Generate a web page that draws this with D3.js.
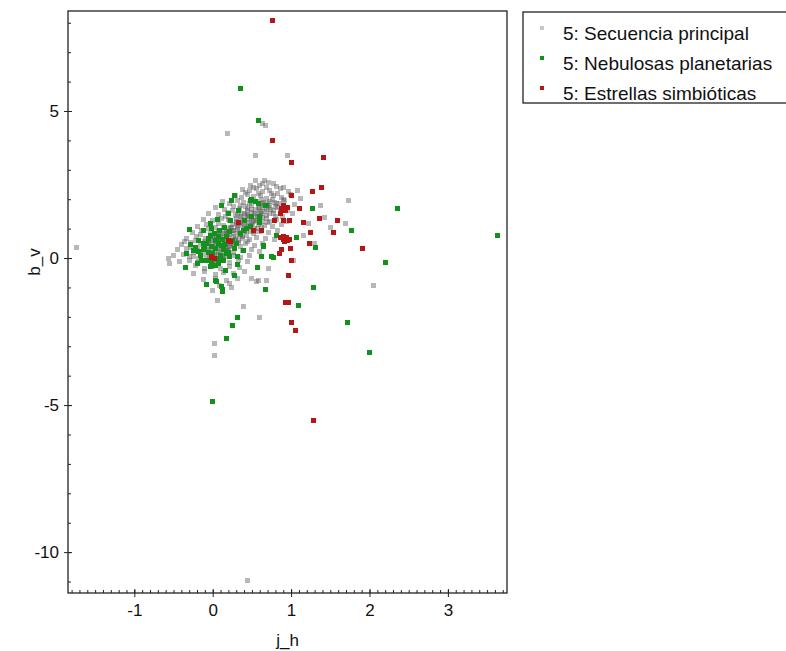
<!DOCTYPE html>
<html>
<head>
<meta charset="utf-8">
<script src="https://cdn.jsdelivr.net/npm/d3@7"></script>
<style>
  body { margin: 0; background: #fff; }
  text { font-family: "Liberation Sans", Arial, sans-serif; fill: #111; }
</style>
</head>
<body>
<div id="chart"></div>
<script>
// datos (j_h, b_v)
var secuencia = [
  [-1.74,0.37],[0.44,-10.95],[0.19,4.22],[0.63,4.56],[0.55,3.47],[0.96,3.5],[0.67,4.52],
  [1.73,1.95],[1.70,1.16],[2.05,-0.95],[0.02,-2.9],[0.02,-3.33],[0.06,-1.46],[0.39,-1.66],
  [0.60,-2.03],[0.24,-1.0],[0.0,-1.11],[0.56,-0.8],[0.69,-0.78],[1.37,1.80],[1.43,1.38],
  [1.22,1.18],[1.16,0.78],[0.71,-0.35],[0.49,-0.69],[0.58,-0.75],[1.03,-0.07],[-0.57,0.0],
  [-0.55,-0.2],[1.3,0.5],[1.5,1.05],
  [0.55,2.62],[0.63,2.55],[0.71,2.58],[0.48,2.47],[0.82,2.44],
  [0.38,2.33],[0.47,2.28],[0.56,2.36],[0.64,2.27],[0.73,2.31],[0.86,2.35],[0.97,2.25],[1.08,2.3],
  [0.29,2.12],[0.37,2.05],[0.44,2.16],[0.52,2.09],[0.61,2.14],[0.69,2.03],[0.77,2.11],[0.88,2.07],[0.99,2.15],[1.12,2.02],
  [0.12,1.93],[0.22,1.86],[0.31,1.95],[0.39,1.88],[0.47,1.84],[0.56,1.91],[0.64,1.85],[0.72,1.93],[0.81,1.87],[0.92,1.96],[1.04,1.83],
  [0.04,1.72],[0.15,1.66],[0.26,1.74],[0.34,1.68],[0.42,1.75],[0.5,1.64],[0.58,1.71],[0.66,1.77],[0.74,1.65],[0.83,1.72],[0.95,1.62],
  [-0.06,1.52],[0.08,1.47],[0.19,1.55],[0.29,1.46],[0.37,1.53],[0.45,1.44],[0.53,1.51],[0.61,1.57],[0.69,1.45],[0.78,1.53],[0.89,1.42],[1.02,1.5],
  [-0.12,1.31],[0.0,1.26],[0.11,1.34],[0.21,1.27],[0.3,1.36],[0.39,1.24],[0.47,1.32],[0.55,1.28],[0.63,1.37],[0.72,1.23],[0.82,1.3],[0.94,1.25],
  [-0.2,1.08],[-0.08,1.14],[0.04,1.05],[0.14,1.12],[0.23,1.03],[0.32,1.1],[0.4,1.06],[0.49,1.15],[0.57,1.02],[0.66,1.11],[0.76,1.07],[0.88,1.13],
  [-0.26,0.88],[-0.14,0.93],[-0.03,0.85],[0.07,0.91],[0.16,0.84],[0.25,0.95],[0.34,0.87],[0.43,0.92],[0.52,0.83],[0.61,0.9],[0.71,0.86],[0.83,0.94],
  [-0.33,0.67],[-0.21,0.72],[-0.09,0.65],[0.01,0.73],[0.11,0.64],[0.2,0.7],[0.29,0.66],[0.38,0.74],[0.47,0.63],[0.56,0.71],[0.67,0.68],[0.79,0.62],
  [-0.4,0.47],[-0.28,0.52],[-0.16,0.45],[-0.05,0.54],[0.05,0.46],[0.15,0.51],[0.24,0.44],[0.33,0.53],[0.42,0.48],[0.53,0.43],[0.64,0.5],
  [-0.45,0.28],[-0.33,0.33],[-0.21,0.26],[-0.1,0.31],[0.0,0.24],[0.09,0.34],[0.19,0.27],[0.28,0.32],[0.38,0.25],[0.49,0.3],[0.6,0.22],
  [-0.5,0.08],[-0.37,0.12],[-0.25,0.05],[-0.14,0.11],[-0.04,0.03],[0.06,0.13],[0.16,0.06],[0.26,0.1],[0.36,0.02],[0.47,0.09],
  [-0.42,-0.12],[-0.3,-0.07],[-0.19,-0.14],[-0.08,-0.06],[0.02,-0.13],[0.12,-0.08],[0.22,-0.15],[0.33,-0.09],[0.45,-0.11],
  [-0.35,-0.32],[-0.22,-0.27],[-0.1,-0.34],[0.0,-0.28],[0.1,-0.35],[0.21,-0.29],[0.34,-0.33],
  [-0.24,-0.52],[-0.11,-0.47],[0.03,-0.55],[0.14,-0.49],[0.27,-0.54],[0.4,-0.46],
  [-0.12,-0.72],[0.04,-0.68],[0.17,-0.75],[0.31,-0.7],
  [0.09,-0.92],[0.22,-0.88],
  [0.02,0.28],[0.08,0.4],[0.13,0.55],[0.18,0.68],[0.22,0.8],[0.27,0.93],[0.31,1.05],[0.36,1.18],[0.41,1.3],[0.46,1.42],
  [0.5,1.55],[0.55,1.66],[0.6,1.78],[0.65,1.9],[0.1,0.22],[0.17,0.37],[0.23,0.5],[0.29,0.64],[0.35,0.77],[0.4,0.9],
  [0.45,1.03],[0.51,1.17],[0.56,1.3],[0.61,1.44],[0.66,1.58],[0.71,1.71],[-0.05,0.36],[0.0,0.5],[0.06,0.63],[0.12,0.77],
  [0.18,0.9],[0.24,1.04],[0.3,1.19],[0.37,1.33],[0.43,1.48],[-0.08,0.12],[-0.02,0.0],[0.05,-0.05],[0.15,0.15],[0.2,0.3],
  [-0.3,0.05],[-0.25,0.18],[-0.2,0.3],[-0.15,0.2],[-0.12,0.42],[-0.07,0.28],[-0.03,0.58],[0.03,0.41],[0.07,0.52],[0.1,0.7],
  [0.15,0.6],[0.19,0.82],[0.21,0.58],[0.26,0.72],[0.28,0.85],[0.32,0.98],[0.34,0.8],[0.38,1.1],[0.4,0.95],[0.44,1.2],
  [0.46,1.1],[0.49,1.35],[0.52,1.25],[0.54,1.48],[0.57,1.4],[0.6,1.62],[0.62,1.52],[0.64,1.72],[0.68,1.65],[0.7,1.85],
  [0.73,1.78],[0.76,1.98],[0.79,1.9],[0.62,2.0],[0.58,2.2],[0.68,2.4],[0.75,2.2],[0.5,1.8],[0.45,1.6],[0.4,1.5],
  [0.35,1.4],[0.3,1.25],[0.25,1.15],[0.2,1.0],[0.15,0.95],[0.1,0.85],[0.05,0.75],[0.0,0.65],[-0.05,0.5],[-0.1,0.55],
  [0.33,0.6],[0.38,0.68],[0.43,0.78],[0.48,0.9],[0.53,1.0],[0.58,1.15],[0.63,1.25],[0.68,1.35],[0.72,1.5],[0.77,1.6],
  [0.8,1.75],[0.85,1.85],[0.9,2.0],[0.27,0.45],[0.22,0.38],[0.17,0.25],[0.12,0.1],[0.07,0.2],[0.02,0.12],[-0.03,0.18],
  [0.6,2.48],[0.77,2.52],[0.66,2.65],[0.52,2.4],[0.9,2.4],[0.42,2.22],[0.83,2.2],[0.35,1.8],[0.25,1.6],[0.16,1.4],
  [0.7,1.2],[0.8,1.4],[0.86,1.6],[0.62,1.05],[0.55,0.9],[0.45,0.55],[0.36,0.4],[0.26,0.2],[0.14,0.0],[0.05,-0.2],
  [-0.18,0.0],[-0.28,0.35],[-0.36,0.55],[-0.22,0.6],[-0.15,0.8],[-0.05,1.0],[0.08,1.18],[0.2,1.32],[0.32,1.5],[0.44,1.7]
];

var nebulosas = [
  [0.35,5.78],[0.59,4.66],[3.63,0.75],[2.36,1.68],[1.77,0.93],[2.20,-0.15],[2.00,-3.22],[1.72,-2.2],
  [1.29,-1.01],[1.09,-1.60],[0.67,-1.07],[0.31,-2.03],[0.25,-2.30],[0.17,-2.73],[0.00,-4.89],
  [-0.08,-0.91],[0.05,-0.81],[0.13,-1.07],[0.13,-1.15],
  [1.27,1.67],[1.31,0.36],[1.07,0.70],[0.57,-0.32],[0.77,0.01],[0.62,0.04],[0.65,0.44],
  [0.60,1.2],[0.60,1.32],[0.69,1.80],[0.58,1.86],[0.50,2.0],
  [0.28,2.14],[0.24,1.95],[0.11,1.80],[0.33,1.63],[0.20,1.52],[0.23,1.29],[-0.03,1.16],[-0.12,0.92],
  [-0.29,0.98],[-0.03,0.75],[0.07,0.73],[0.18,0.73],[0.35,0.84],[0.43,1.01],[-0.12,0.50],[-0.25,0.27],
  [-0.33,0.14],[-0.16,0.10],[-0.08,-0.07],[-0.20,-0.2],[-0.35,-0.32],[-0.03,-0.30],[0.07,-0.18],
  [0.16,-0.41],[0.31,-0.21],[0.31,0.04],[0.18,0.16],[0.28,0.33],[0.39,0.27],[0.28,-0.58],[0.04,-0.75],
  [0.11,-0.98],[0.48,1.97],[0.41,1.29],[0.03,0.33],[0.11,0.44],[-0.18,0.61],
  [0.55,1.92],[0.67,1.80],[0.50,1.41],[0.60,1.41],[0.48,1.07],[0.39,0.95],[0.65,0.38],[0.75,0.04],[0.81,0.78],
  [-0.05,0.2],[0.0,0.05],[0.08,0.0],[-0.1,0.4],[0.05,0.6],[0.14,0.3],[0.22,0.05],[-0.02,-0.12],
  [-0.22,0.35],[-0.18,0.22],[-0.12,0.3],[-0.08,0.5],[-0.02,0.38],[0.03,0.6],[0.08,0.48],[0.12,0.62],
  [0.16,0.45],[0.2,0.2],[0.1,0.1],[0.0,0.15],[-0.06,0.65],[0.02,0.85],[0.09,0.95],[0.15,1.05],
  [0.25,0.6],[0.14,-0.1],[0.04,-0.25],[-0.14,-0.1],[-0.28,0.45],[0.22,0.9],[0.3,0.5],[0.06,1.3],[-0.02,1.0]
];

var simbioticas = [
  [0.76,8.06],[0.76,4.01],[1.01,3.24],[1.41,3.43],[1.39,2.39],[1.27,2.26],[1.01,2.11],
  [0.90,1.78],[0.96,1.72],[1.11,1.67],[0.86,1.52],[0.79,1.29],[0.90,1.29],[0.98,1.26],
  [1.16,1.20],[1.36,1.35],[1.59,1.29],[1.54,0.87],[1.25,0.87],[1.23,0.50],[0.86,0.69],
  [0.90,0.62],[0.94,0.70],[0.98,0.64],[0.92,0.55],[0.88,0.30],[0.99,0.33],[0.85,0.16],
  [1.00,-0.07],[0.97,-0.58],[0.52,0.95],[0.62,0.95],[1.91,0.33],[0.93,-1.50],[0.97,-1.50],
  [1.01,-2.2],[1.05,-2.47],[1.28,-5.53],[0.33,1.20],[0.20,0.59],[0.23,0.55],[-0.01,0.04],
  [-0.01,0.02],[0.02,-0.02],[0.92,0.68],[0.96,0.6],[0.9,0.72],[0.88,1.7],[0.93,1.6]
];

var etiquetas = ["5: Secuencia principal", "5: Nebulosas planetarias", "5: Estrellas simbi\u00f3ticas"];
var ticksX = [-1, 0, 1, 2, 3];
var ticksY = [5, 0, -5, -10];

var W = 786, H = 651;
var margin = {top: 11, right: 279, bottom: 58, left: 68};
var width = W - margin.left - margin.right,
    height = H - margin.top - margin.bottom;

var svg = d3.select("#chart").append("svg")
    .attr("width", W)
    .attr("height", H);

var g = svg.append("g").attr("transform", "translate(" + margin.left + "," + margin.top + ")");

var x = d3.scaleLinear().domain([-1.846, 3.754]).range([0, width]);
var y = d3.scaleLinear().domain([-11.39, 8.40]).range([height, 0]);

var s = 5;
function puntos(datos, color, op) {
  g.append("g").selectAll("rect")
    .data(datos)
    .enter().append("rect")
      .attr("x", function(d){ return Math.round(x(d[0]) - s/2); })
      .attr("y", function(d){ return Math.round(y(d[1]) - s/2); })
      .attr("width", s)
      .attr("height", s)
      .style("fill", color)
      .style("opacity", op);
}
puntos(secuencia, "#555555", 0.42);
puntos(nebulosas, "#12921c", 1);
puntos(simbioticas, "#b51717", 1);

// marco
g.append("rect").attr("width", width).attr("height", height)
  .style("fill", "none").style("stroke", "#222").style("stroke-width", 1.3);

var fmt = function(d){ return String(d); };

// eje x
var xAxis = g.append("g").attr("transform", "translate(0," + height + ")");
xAxis.call(d3.axisBottom(x).tickValues(d3.range(-18, 38).map(function(i){ return i/10; }))
    .tickSize(-3).tickFormat(""));
xAxis.select(".domain").remove();
var xMaj = g.append("g").attr("transform", "translate(0," + height + ")");
xMaj.call(d3.axisBottom(x).tickValues(ticksX).tickFormat(fmt).tickSizeInner(4).tickSizeOuter(0).tickPadding(7));
xMaj.select(".domain").remove();
xMaj.selectAll(".tick line").attr("y1", -4);

// eje y
var yAxis = g.append("g");
yAxis.call(d3.axisLeft(y).tickValues(d3.range(-11, 9)).tickSize(-3).tickFormat(""));
yAxis.select(".domain").remove();
var yMaj = g.append("g");
yMaj.call(d3.axisLeft(y).tickValues(ticksY).tickFormat(fmt).tickSizeInner(4).tickSizeOuter(0).tickPadding(5));
yMaj.select(".domain").remove();
yMaj.selectAll(".tick line").attr("x1", 4);

g.selectAll(".tick line").style("stroke", "#222");
g.selectAll(".tick text").style("font-size", "17px").style("font-family", "Liberation Sans, Arial, sans-serif").style("fill", "#111");

// titulos
svg.append("text").attr("x", margin.left + width/2).attr("y", 646)
  .attr("text-anchor", "middle").style("font-size", "17px").text("j_h");
svg.append("text").attr("transform", "translate(40,262) rotate(-90)")
  .attr("text-anchor", "middle").style("font-size", "17px").text("b_v");

// leyenda
var leg = svg.append("g").attr("transform", "translate(523,12)");
leg.append("rect").attr("width", 270).attr("height", 91)
  .style("fill", "#fff").style("stroke", "#222").style("stroke-width", 1.3);
var colores = ["#c8c8c8", "#12921c", "#b51717"];
etiquetas.forEach(function(t, i){
  leg.append("rect").attr("x", 17).attr("y", 14 + i*30).attr("width", 4).attr("height", 4)
    .style("fill", colores[i]);
  leg.append("text").attr("x", 40).attr("y", 28 + i*30).style("font-size", "19px").text(t);
});
</script>
</body>
</html>
